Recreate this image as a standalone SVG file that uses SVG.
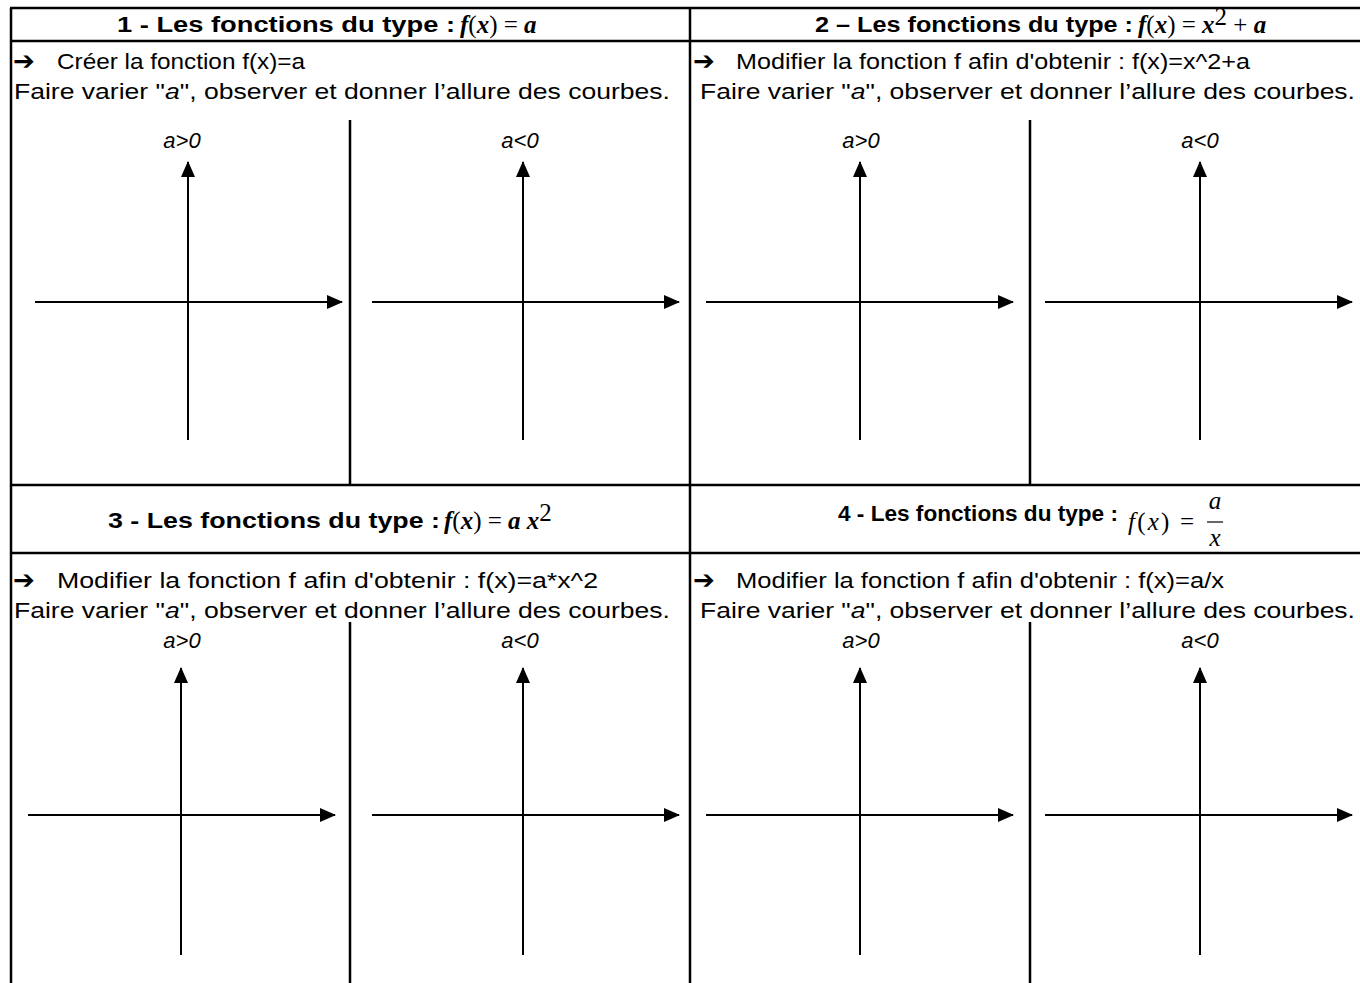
<svg xmlns="http://www.w3.org/2000/svg" width="1360" height="983" viewBox="0 0 1360 983">
<style>
.bd{stroke:#000;stroke-width:2.5;fill:none}
.ax{stroke:#000;stroke-width:2;fill:none;marker-end:url(#ah)}
.t{font-family:'Liberation Sans',Arial,sans-serif;font-size:22px;fill:#000}
.h{font-family:'Liberation Sans',Arial,sans-serif;font-size:22px;font-weight:bold;fill:#000}
.m{font-family:'Liberation Serif',serif;font-size:25px;font-style:italic;font-weight:bold;fill:#000}
.mr{font-family:'Liberation Serif',serif;font-size:25px;fill:#000}
.lab{font-family:'Liberation Sans',Arial,sans-serif;font-size:22px;font-style:italic;fill:#000;text-anchor:middle}
.ar{font-family:'DejaVu Sans',sans-serif;font-size:26px;font-weight:bold;fill:#000}
</style>
<defs>
<marker id="ah" markerUnits="userSpaceOnUse" markerWidth="16" markerHeight="14" refX="15" refY="7" orient="auto">
<path d="M0,0 L16,7 L0,14 Z" fill="#000"/>
</marker>
</defs>
<rect width="1360" height="983" fill="#fff"/>

<g id="table">
<line class="bd" x1="10" y1="8" x2="1360" y2="8"/>
<line class="bd" x1="10" y1="41" x2="1360" y2="41"/>
<line class="bd" x1="10" y1="485" x2="1360" y2="485"/>
<line class="bd" x1="10" y1="553" x2="1360" y2="553"/>
<line class="bd" x1="11" y1="8" x2="11" y2="983"/>
<line class="bd" x1="690" y1="8" x2="690" y2="983"/>
<line class="bd" x1="350" y1="120" x2="350" y2="485"/>
<line class="bd" x1="1030" y1="120" x2="1030" y2="485"/>
<line class="bd" x1="350" y1="622" x2="350" y2="983"/>
<line class="bd" x1="1030" y1="622" x2="1030" y2="983"/>
</g>

<g id="cell1">
<text class="h" x="117" y="32" textLength="338" lengthAdjust="spacingAndGlyphs">1 - Les fonctions du type :</text>
<text x="460" y="33"><tspan class="m">f</tspan><tspan class="mr">(</tspan><tspan class="m" font-weight="normal">x</tspan><tspan class="mr">) = </tspan><tspan class="m">a</tspan></text>
<text class="ar" x="13" y="70">➔</text>
<text class="t" x="57" y="69" textLength="248" lengthAdjust="spacingAndGlyphs">Créer la fonction f(x)=a</text>
<text class="t" x="14" y="99" textLength="656" lengthAdjust="spacingAndGlyphs">Faire varier "<tspan font-style="italic">a</tspan>", observer et donner l’allure des courbes.</text>
<text class="lab" x="182" y="148">a&gt;0</text>
<text class="lab" x="520" y="148">a&lt;0</text>
</g>

<g id="cell2">
<text class="h" x="815" y="32" textLength="318" lengthAdjust="spacingAndGlyphs">2 – Les fonctions du type :</text>
<text x="1138" y="33"><tspan class="m">f</tspan><tspan class="mr">(</tspan><tspan class="m" font-weight="normal">x</tspan><tspan class="mr">) = </tspan><tspan class="m">x</tspan><tspan class="mr" font-size="14" dy="-8">2</tspan><tspan class="mr" dy="8"> + </tspan><tspan class="m">a</tspan></text>
<text class="ar" x="693" y="70">➔</text>
<text class="t" x="736" y="69" textLength="514" lengthAdjust="spacingAndGlyphs">Modifier la fonction f afin d'obtenir : f(x)=x^2+a</text>
<text class="t" x="700" y="99" textLength="655" lengthAdjust="spacingAndGlyphs">Faire varier "<tspan font-style="italic">a</tspan>", observer et donner l’allure des courbes.</text>
<text class="lab" x="861" y="148">a&gt;0</text>
<text class="lab" x="1200" y="148">a&lt;0</text>
</g>

<g id="cell3">
<text class="h" x="108" y="528" textLength="332" lengthAdjust="spacingAndGlyphs">3 - Les fonctions du type :</text>
<text x="444" y="529"><tspan class="m">f</tspan><tspan class="mr">(</tspan><tspan class="m" font-weight="normal">x</tspan><tspan class="mr">) = </tspan><tspan class="m">a x</tspan><tspan class="mr" font-size="14" dy="-8">2</tspan></text>
<text class="ar" x="13" y="589">➔</text>
<text class="t" x="57" y="588" textLength="541" lengthAdjust="spacingAndGlyphs">Modifier la fonction f afin d'obtenir : f(x)=a*x^2</text>
<text class="t" x="14" y="618" textLength="656" lengthAdjust="spacingAndGlyphs">Faire varier "<tspan font-style="italic">a</tspan>", observer et donner l’allure des courbes.</text>
<text class="lab" x="182" y="648">a&gt;0</text>
<text class="lab" x="520" y="648">a&lt;0</text>
</g>

<g id="cell4">
<text class="h" x="838" y="521" textLength="280" lengthAdjust="spacingAndGlyphs">4 - Les fonctions du type :</text>
<text class="mr" x="1128" y="530" font-size="24" textLength="66" lengthAdjust="spacing"><tspan font-style="italic">f</tspan>(<tspan font-style="italic">x</tspan>) =</text>
<text class="mr" x="1215" y="509" font-size="24" font-style="italic" text-anchor="middle">a</text>
<line x1="1207" y1="522" x2="1223" y2="522" stroke="#000" stroke-width="1.2"/>
<text class="mr" x="1215" y="546" font-size="24" font-style="italic" text-anchor="middle">x</text>
<text class="ar" x="693" y="589">➔</text>
<text class="t" x="736" y="588" textLength="488" lengthAdjust="spacingAndGlyphs">Modifier la fonction f afin d'obtenir : f(x)=a/x</text>
<text class="t" x="700" y="618" textLength="655" lengthAdjust="spacingAndGlyphs">Faire varier "<tspan font-style="italic">a</tspan>", observer et donner l’allure des courbes.</text>
<text class="lab" x="861" y="648">a&gt;0</text>
<text class="lab" x="1200" y="648">a&lt;0</text>
</g>

<g id="connectors">
<line class="ax" x1="188" y1="440" x2="188" y2="162"/>
<line class="ax" x1="35" y1="302" x2="342" y2="302"/>
<line class="ax" x1="523" y1="440" x2="523" y2="162"/>
<line class="ax" x1="372" y1="302" x2="679" y2="302"/>
<line class="ax" x1="860" y1="440" x2="860" y2="162"/>
<line class="ax" x1="706" y1="302" x2="1013" y2="302"/>
<line class="ax" x1="1200" y1="440" x2="1200" y2="162"/>
<line class="ax" x1="1045" y1="302" x2="1352" y2="302"/>

<line class="ax" x1="181" y1="955" x2="181" y2="668"/>
<line class="ax" x1="28" y1="815" x2="335" y2="815"/>
<line class="ax" x1="523" y1="955" x2="523" y2="668"/>
<line class="ax" x1="372" y1="815" x2="679" y2="815"/>
<line class="ax" x1="860" y1="955" x2="860" y2="668"/>
<line class="ax" x1="706" y1="815" x2="1013" y2="815"/>
<line class="ax" x1="1200" y1="955" x2="1200" y2="668"/>
<line class="ax" x1="1045" y1="815" x2="1352" y2="815"/>
</g>
</svg>
